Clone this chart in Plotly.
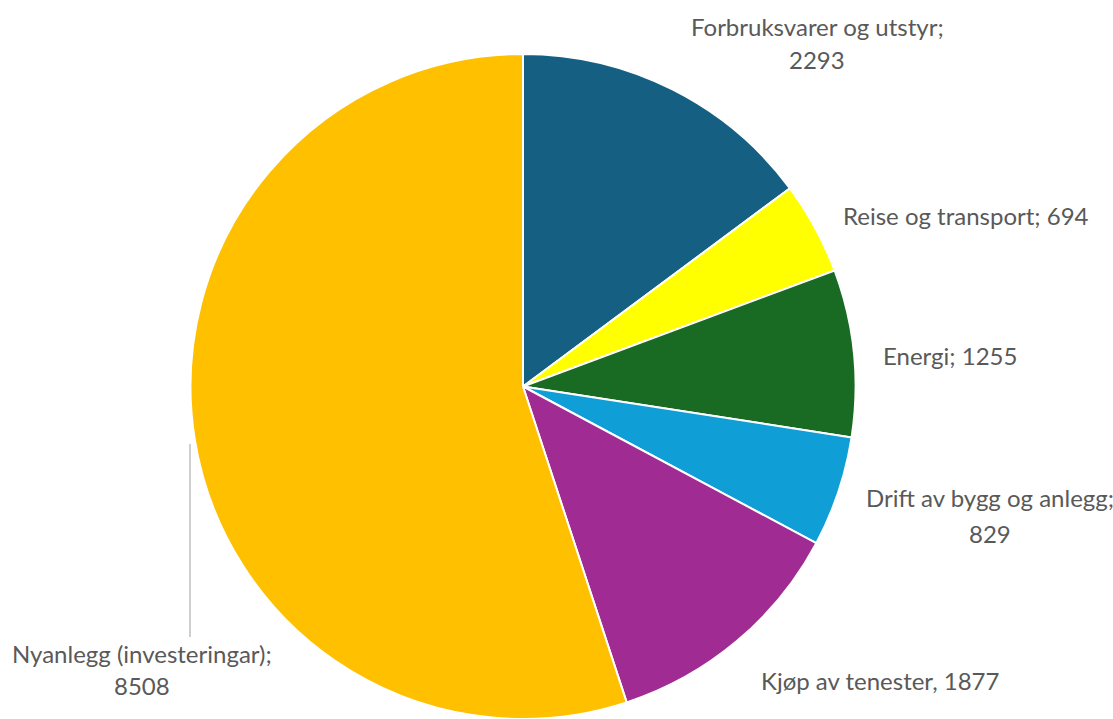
import plotly.graph_objects as go

categories = ["Forbruksvarer og utstyr", "Reise og transport", "Energi",
              "Drift av bygg og anlegg", "Kjøp av tenester", "Nyanlegg (investeringar)"]
values = [2293, 694, 1255, 829, 1877, 8508]
colors = ["#156082", "#FFFF00", "#196B24", "#0F9ED5", "#A02B93", "#FFC000"]
separators = [";", ";", ";", ";", ",", ";"]

W, H = 1113, 719
cx, cy, r = 523, 387, 333

fig = go.Figure(go.Pie(
    labels=categories, values=values, sort=False, direction="clockwise", rotation=0,
    marker=dict(colors=colors, line=dict(color="white", width=2)),
    textinfo="none", hoverinfo="label+value", showlegend=False,
    domain=dict(x=[(cx - r - 1) / W, (cx + r + 1) / W], y=[0, (H - (cy - r)) / H]),
))

# label layout: (lines split, x center px, y centers px)
label_pos = [
    (True, 817, [27, 59]),
    (False, 966, [215]),
    (False, 950, [356]),
    (True, 990, [497, 533]),
    (False, 880, [680]),
    (True, 142, [653, 685]),
]
font = dict(family="Lato, 'Open Sans', sans-serif", size=24, color="#595959")
for cat, val, sep, (split, x, ys) in zip(categories, values, separators, label_pos):
    lines = [f"{cat}{sep}", f"{val}"] if split else [f"{cat}{sep} {val}"]
    for line, y in zip(lines, ys):
        fig.add_annotation(x=x / W, y=1 - y / H, xref="paper", yref="paper",
                           text=line, showarrow=False, font=font,
                           xanchor="center", yanchor="middle")

# leader line for the large slice
fig.add_shape(type="line", xref="paper", yref="paper",
              x0=190 / W, x1=190 / W, y0=1 - 444 / H, y1=1 - 637 / H,
              line=dict(color="#BFBFBF", width=1.5))

fig.update_layout(width=W, height=H, margin=dict(l=0, r=0, t=0, b=0),
                  paper_bgcolor="white", plot_bgcolor="white")
fig.write_html("out.html", config={"displayModeBar": False},
               post_script="document.body.style.margin='0';document.body.style.overflow='hidden';")
